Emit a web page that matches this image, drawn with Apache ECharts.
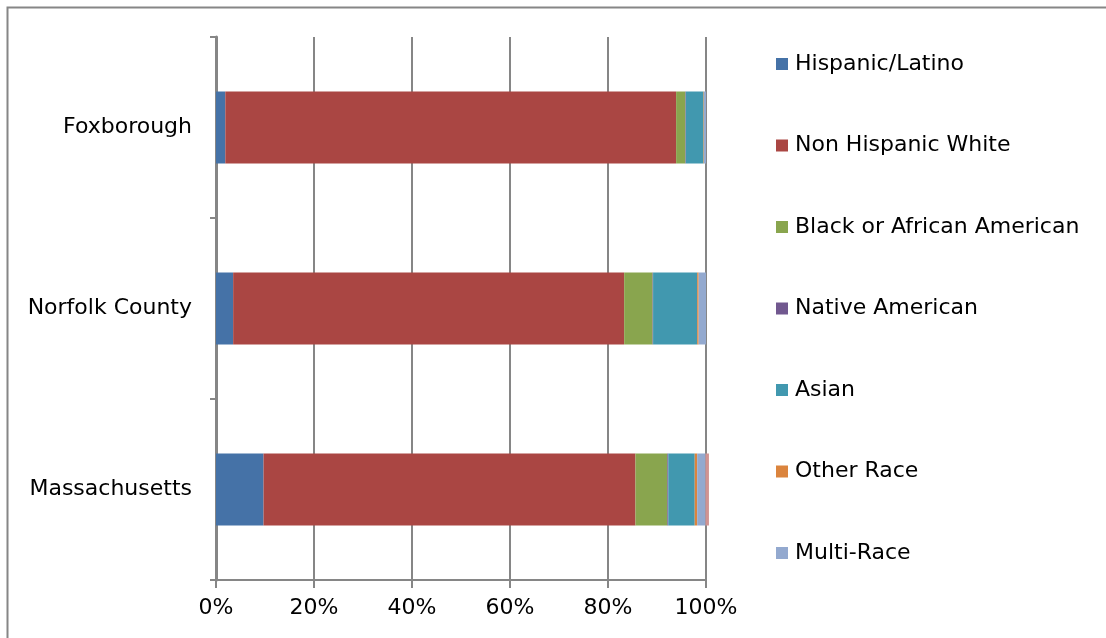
<!DOCTYPE html>
<html>
<head>
<meta charset="utf-8">
<script src="https://cdn.jsdelivr.net/npm/echarts@6/dist/echarts.min.js"></script>
<style>
  html, body { margin: 0; padding: 0; background: #ffffff; }
  #chart { width: 1106px; height: 638px; }
</style>
</head>
<body>
<div id="chart"></div>
<script>
// Places, listed top to bottom
const places = ['Foxborough', 'Norfolk County', 'Massachusetts'];

// Share of population (%) by race / ethnicity, in the order of `places`
const hispanicLatino   = [1.9, 3.5, 9.7];
const nonHispanicWhite = [92.0, 79.8, 75.9];
const blackAfricanAm   = [1.9, 5.8, 6.5];
const nativeAmerican   = [0.1, 0.1, 0.2];
const asian            = [3.6, 9.0, 5.4];
const otherRace        = [0.1, 0.3, 0.5];
const multiRace        = [0.4, 1.5, 1.7];
const unlisted         = [0, 0, 0.7];

// Value axis ticks
const tickValues = [0, 20, 40, 60, 80, 100];

const groups = [
  { name: 'Hispanic/Latino',           data: hispanicLatino,   color: '#4572A7' },
  { name: 'Non Hispanic White',        data: nonHispanicWhite, color: '#AA4643' },
  { name: 'Black or African American', data: blackAfricanAm,   color: '#89A54E' },
  { name: 'Native American',           data: nativeAmerican,   color: '#71588F' },
  { name: 'Asian',                     data: asian,            color: '#4198AF' },
  { name: 'Other Race',                data: otherRace,        color: '#DB843D' },
  { name: 'Multi-Race',                data: multiRace,        color: '#93A9CF' },
  { name: 'Unlisted',                  data: unlisted,         color: '#D19392' }
];

const legendNames = groups.slice(0, 7).map(g => g.name);
const FONT = 'DejaVu Sans';
const GREY = '#868686';

const chart = echarts.init(document.getElementById('chart'), null, { renderer: 'canvas' });

chart.setOption({
  animation: false,
  backgroundColor: '#ffffff',
  textStyle: { fontFamily: FONT },
  graphic: [{
    type: 'rect',
    silent: true,
    z: -10,
    shape: { x: 7.5, y: 7.5, width: 1200, height: 1200 },
    style: { fill: 'none', stroke: GREY, lineWidth: 2 }
  }],
  grid: { left: 216, right: 400, top: 37, bottom: 58, containLabel: false },
  legend: {
    data: legendNames,
    orient: 'vertical',
    left: 771,
    top: 48,
    itemWidth: 12,
    itemHeight: 12,
    itemGap: 59.5,
    icon: 'rect',
    selectedMode: false,
    textStyle: { fontFamily: FONT, fontSize: 22, color: '#000000', lineHeight: 22, padding: [0, 0, 0, 2] }
  },
  xAxis: {
    type: 'value',
    min: tickValues[0],
    max: tickValues[tickValues.length - 1],
    interval: tickValues[1] - tickValues[0],
    axisLine: { show: true, lineStyle: { color: GREY, width: 2 } },
    axisTick: { show: true, length: 8, lineStyle: { color: GREY, width: 2 } },
    splitLine: { show: true, lineStyle: { color: GREY, width: 2 } },
    axisLabel: {
      formatter: v => v + '%',
      fontFamily: FONT,
      fontSize: 22,
      color: '#000000',
      margin: 17
    }
  },
  yAxis: {
    type: 'category',
    data: places,
    inverse: true,
    axisLine: { show: true, lineStyle: { color: GREY, width: 3 } },
    axisTick: { show: true, length: 6, lineStyle: { color: GREY, width: 2 } },
    splitLine: { show: false },
    axisLabel: {
      fontFamily: FONT,
      fontSize: 22,
      color: '#000000',
      margin: 24
    }
  },
  series: groups.map(g => ({
    name: g.name,
    type: 'bar',
    stack: 'share',
    data: g.data,
    barWidth: 72,
    clip: false,
    itemStyle: { color: g.color },
    emphasis: { disabled: true }
  }))
});
</script>
</body>
</html>
